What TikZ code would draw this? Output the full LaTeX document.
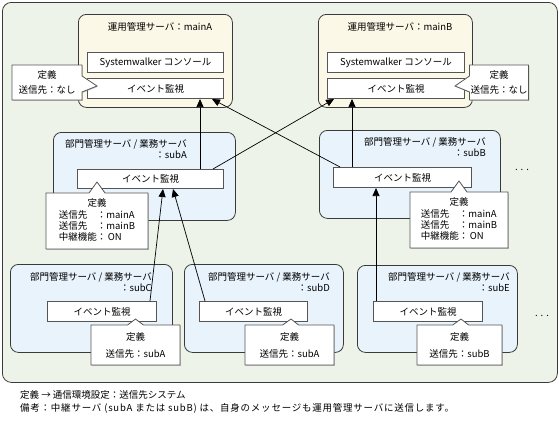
\documentclass[tikz,border=0pt]{standalone}
\usepackage{fontspec}
\setmainfont{Noto Sans CJK JP}
\usetikzlibrary{arrows.meta,shapes.callouts,calc,shadows}
\definecolor{outerfill}{HTML}{EEF3E9}
\definecolor{mainfill}{HTML}{FCF8E8}
\definecolor{subfill}{HTML}{E8F3FC}
\definecolor{edge}{HTML}{3A3A3A}
\definecolor{inedge}{HTML}{555555}
\begin{document}
\begin{tikzpicture}[x=1pt,y=-1pt,
  font=\fontsize{9.5}{11}\selectfont,
  frame/.style={draw=edge, fill=outerfill, rounded corners=9pt, line width=0.8pt, anchor=north west, inner sep=0pt},
  mainbox/.style={draw=edge, fill=mainfill, rounded corners=8pt, line width=0.8pt, anchor=north west, inner sep=0pt},
  subbox/.style={draw=edge, fill=subfill, rounded corners=8pt, line width=0.8pt, anchor=north west, inner sep=0pt},
  inbox/.style={draw=inedge, fill=white, line width=1pt, anchor=north west, inner sep=0pt,
    drop shadow={shadow xshift=0.8pt, shadow yshift=-0.8pt, fill=black!45}},
  note/.style={rectangle callout, draw=inedge, fill=white, line width=0.8pt, callout pointer width=16pt,
    inner sep=0pt, align=center,
    drop shadow={shadow xshift=0.8pt, shadow yshift=-0.8pt, fill=black!45}},
  ttl/.style={align=right, anchor=north east, inner sep=0pt},
  arr/.style={-{Triangle[length=8pt,width=7pt]}, line width=0.7pt, draw=black},
  dots/.style={inner sep=0pt}
]
\useasboundingbox (0,0) rectangle (559,434);

\node[frame, minimum width=555pt, minimum height=380pt] (frm) at (2,2) {};

% main servers
\node[mainbox, minimum width=154pt, minimum height=93pt] (mA) at (78,14) {};
\node[inner sep=0pt] (mAt) at (160,27) {運用管理サーバ：mainA};
\node[inbox, minimum width=136pt, minimum height=20pt] (mAsw) at (87,52) {Systemwalker コンソール};
\node[inbox, minimum width=136pt, minimum height=20pt] (mAev) at (87,78) {イベント監視};

\node[mainbox, minimum width=154pt, minimum height=93pt] (mB) at (318,14) {};
\node[inner sep=0pt] (mBt) at (400,27) {運用管理サーバ：mainB};
\node[inbox, minimum width=137pt, minimum height=20pt] (mBsw) at (327,52) {Systemwalker コンソール};
\node[inbox, minimum width=137pt, minimum height=20pt] (mBev) at (327,78) {イベント監視};

% relay servers
\node[subbox, minimum width=182pt, minimum height=88pt] (sA) at (53,132) {};
\node[ttl] (sAt) at (187,139) {部門管理サーバ / 業務サーバ\\：subA};
\node[inbox, minimum width=146pt, minimum height=19pt] (sAev) at (77,169) {イベント監視};

\node[subbox, minimum width=181pt, minimum height=88pt] (sB) at (319,130) {};
\node[ttl] (sBt) at (486,137) {部門管理サーバ / 業務サーバ\\：subB};
\node[inbox, minimum width=138pt, minimum height=20pt] (sBev) at (333,167) {イベント監視};

% leaf servers
\node[subbox, minimum width=162pt, minimum height=88pt] (sC) at (10,264) {};
\node[ttl] (sCt) at (152,272) {部門管理サーバ / 業務サーバ\\：subC};
\node[inbox, minimum width=109pt, minimum height=20pt] (sCev) at (47,301) {イベント監視};

\node[subbox, minimum width=159pt, minimum height=88pt] (sD) at (184,264) {};
\node[ttl] (sDt) at (330,272) {部門管理サーバ / 業務サーバ\\：subD};
\node[inbox, minimum width=108pt, minimum height=20pt] (sDev) at (199,301) {イベント監視};

\node[subbox, minimum width=160pt, minimum height=87pt] (sE) at (357,265) {};
\node[ttl] (sEt) at (510,272) {部門管理サーバ / 業務サーバ\\：subE};
\node[inbox, minimum width=109pt, minimum height=20pt] (sEev) at (373,301) {イベント監視};

% callouts
\node[note, minimum width=70pt, minimum height=35pt, callout absolute pointer={(97,86)}] (nA) at (47,82.5) {定義\\[4pt]送信先：なし};
\node[note, minimum width=59pt, minimum height=35pt, callout absolute pointer={(455,86)}] (nB) at (499,82.5) {定義\\[4pt]送信先：なし};

\node[note, minimum width=102pt, minimum height=56pt, callout absolute pointer={(97,182)}] (nsA) at (97,221)
  {定義\\[2pt]{\renewcommand{\arraystretch}{0.95}\begin{tabular}{@{}l@{}l@{}}送信先\ \ &：mainA\\ 送信先 &：mainB\\ 中継機能&：\,ON\end{tabular}}};
\node[note, minimum width=98pt, minimum height=56pt, callout absolute pointer={(459,181)}] (nsB) at (459,220)
  {定義\\[2pt]{\renewcommand{\arraystretch}{0.95}\begin{tabular}{@{}l@{}l@{}}送信先\ \ &：mainA\\ 送信先 &：mainB\\ 中継機能&：\,ON\end{tabular}}};

\node[note, minimum width=89pt, minimum height=40pt, callout absolute pointer={(135.5,319)}] (nsC) at (135.5,345) {定義\\[6pt]送信先：subA};
\node[note, minimum width=89pt, minimum height=40pt, callout absolute pointer={(291,319)}] (nsD) at (289.5,345) {定義\\[6pt]送信先：subA};
\node[note, minimum width=85pt, minimum height=40pt, callout absolute pointer={(461,319)}] (nsE) at (459.5,345) {定義\\[6pt]送信先：subB};

% dots
\node[dots] (d1) at (522,170) {.\hspace{3pt}.\hspace{3pt}.};
\node[dots] (d2) at (542,316) {.\hspace{3pt}.\hspace{3pt}.};

% connectors
\draw[arr] ($(sAev.north west)+(123,0)$) -- ($(mAev.south west)+(113,0)$);
\draw[arr] ($(sAev.north west)+(136,0)$) -- ($(mBev.south west)+(7,0)$);
\draw[arr] ($(sBev.north west)+(7,0)$) -- ($(mAev.south west)+(125,0)$);
\draw[arr] ($(sBev.north west)+(19,0)$) -- ($(mBev.south west)+(25,0)$);
\draw[arr] ($(sCev.north west)+(103,0)$) -- ($(sAev.south west)+(86,0)$);
\draw[arr] ($(sDev.north west)+(6,0)$) -- ($(sAev.south west)+(96,0)$);
\draw[arr] ($(sEev.north west)+(3,0)$) -- ($(sBev.south west)+(43,0)$);

% footer
\node[anchor=west, inner sep=0pt] (f1) at (20,395) {定義 → 通信環境設定：送信先システム};
\node[anchor=west, inner sep=0pt] (f2) at (20,408) {\addfontfeature{LetterSpace=8}備考：中継サーバ (subA または subB) は、自身のメッセージも運用管理サーバに送信します。};
\end{tikzpicture}
\end{document}
